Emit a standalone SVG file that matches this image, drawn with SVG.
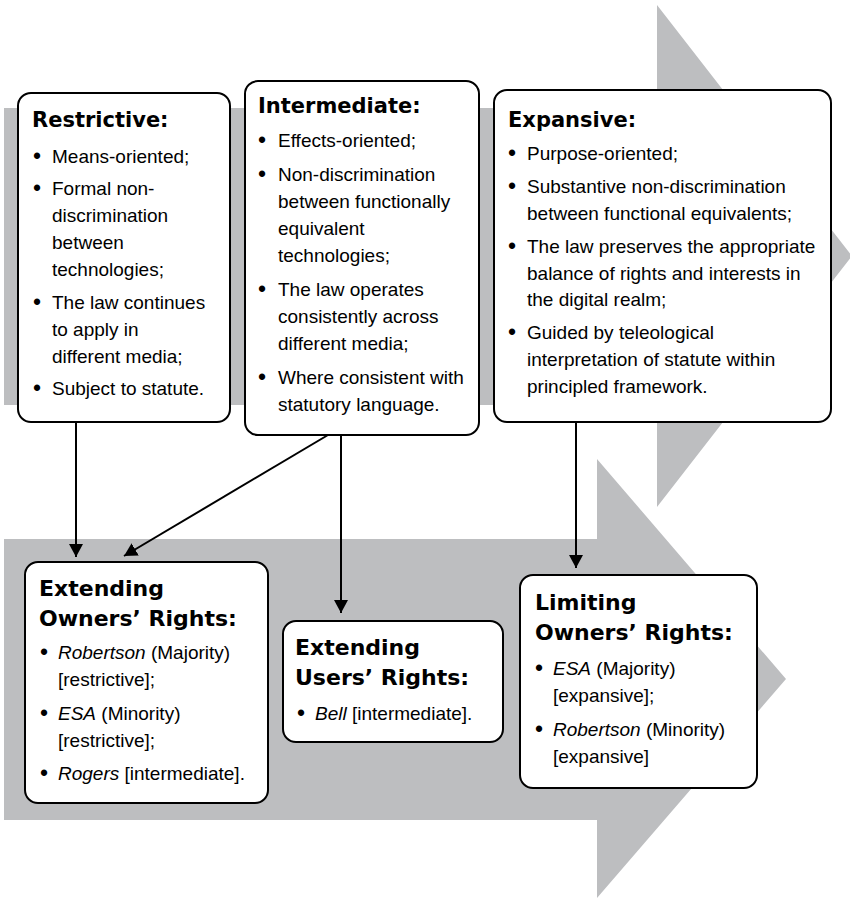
<svg xmlns="http://www.w3.org/2000/svg" width="850" height="899" viewBox="0 0 850 899">
<defs>
<style>
.bg{fill:#bdbec0;stroke:none}
.box{fill:#fff;stroke:#000;stroke-width:2}
.t{font-family:"DejaVu Sans",sans-serif;font-weight:bold;font-size:21px;fill:#000}
.t2{font-family:"DejaVu Sans",sans-serif;font-weight:bold;font-size:22px;fill:#000}
.b{font-family:"Liberation Sans",Arial,sans-serif;font-size:19px;fill:#000}
.d{font-size:23px}
.i{font-style:italic}
.c{stroke:#000;stroke-width:2;fill:none}
</style>
<marker id="ah" markerUnits="userSpaceOnUse" markerWidth="14" markerHeight="14" refX="13" refY="7" orient="auto">
<path d="M0,0 L13,7 L0,14 z" fill="#000"/>
</marker>
</defs>
<g id="background-arrows">
<polygon class="bg" points="4,108 657,108 657,5 852,256 657,507 657,405 4,405"/>
<polygon class="bg" points="4,539 597,539 597,459 786,679 597,898 597,820 4,820"/>
</g>
<g id="connectors">
<line class="c" x1="76" y1="422" x2="76" y2="557" marker-end="url(#ah)"/>
<line class="c" x1="328" y1="435" x2="124" y2="556" marker-end="url(#ah)"/>
<line class="c" x1="341" y1="435" x2="341" y2="613" marker-end="url(#ah)"/>
<line class="c" x1="576" y1="422" x2="576" y2="568" marker-end="url(#ah)"/>
</g>
<g id="restrictive">
<rect class="box" x="18" y="93" width="212" height="329" rx="13"/>
<text class="t" x="32" y="127">Restrictive:</text>
<text class="b"><tspan class="d" x="33" y="163.5">•</tspan><tspan x="52" y="162.5">Means-oriented;</tspan></text>
<text class="b"><tspan class="d" x="33" y="196">•</tspan><tspan x="52" y="195">Formal non-</tspan><tspan x="52" y="222">discrimination</tspan><tspan x="52" y="249">between</tspan><tspan x="52" y="276">technologies;</tspan></text>
<text class="b"><tspan class="d" x="33" y="310">•</tspan><tspan x="52" y="309">The law continues</tspan><tspan x="52" y="336">to apply in</tspan><tspan x="52" y="363">different media;</tspan></text>
<text class="b"><tspan class="d" x="33" y="396">•</tspan><tspan x="52" y="395">Subject to statute.</tspan></text>
</g>
<g id="intermediate">
<rect class="box" x="245" y="81" width="234" height="354" rx="13"/>
<text class="t" x="258" y="113">Intermediate:</text>
<text class="b"><tspan class="d" x="258" y="148">•</tspan><tspan x="278" y="147">Effects-oriented;</tspan></text>
<text class="b"><tspan class="d" x="258" y="182">•</tspan><tspan x="278" y="181">Non-discrimination</tspan><tspan x="278" y="208">between functionally</tspan><tspan x="278" y="235">equivalent</tspan><tspan x="278" y="262">technologies;</tspan></text>
<text class="b"><tspan class="d" x="258" y="297">•</tspan><tspan x="278" y="296">The law operates</tspan><tspan x="278" y="323">consistently across</tspan><tspan x="278" y="350">different media;</tspan></text>
<text class="b"><tspan class="d" x="258" y="385">•</tspan><tspan x="278" y="384">Where consistent with</tspan><tspan x="278" y="411">statutory language.</tspan></text>
</g>
<g id="expansive">
<rect class="box" x="494" y="90" width="337" height="332" rx="13"/>
<text class="t" x="508" y="127">Expansive:</text>
<text class="b"><tspan class="d" x="508" y="161">•</tspan><tspan x="527" y="160">Purpose-oriented;</tspan></text>
<text class="b"><tspan class="d" x="508" y="194">•</tspan><tspan x="527" y="193">Substantive non-discrimination</tspan><tspan x="527" y="220">between functional equivalents;</tspan></text>
<text class="b"><tspan class="d" x="508" y="254">•</tspan><tspan x="527" y="253">The law preserves the appropriate</tspan><tspan x="527" y="280">balance of rights and interests in</tspan><tspan x="527" y="306">the digital realm;</tspan></text>
<text class="b"><tspan class="d" x="508" y="340">•</tspan><tspan x="527" y="339">Guided by teleological</tspan><tspan x="527" y="366">interpretation of statute within</tspan><tspan x="527" y="393">principled framework.</tspan></text>
</g>
<g id="extending-owners">
<rect class="box" x="25" y="562" width="243" height="241" rx="13"/>
<text class="t2"><tspan x="39" y="596">Extending</tspan><tspan x="39" y="626">Owners’ Rights:</tspan></text>
<text class="b"><tspan class="d" x="40" y="660">•</tspan><tspan x="58" y="659" class="i">Robertson</tspan><tspan> (Majority)</tspan><tspan x="58" y="686">[restrictive];</tspan></text>
<text class="b"><tspan class="d" x="40" y="721">•</tspan><tspan x="58" y="720" class="i">ESA</tspan><tspan> (Minority)</tspan><tspan x="58" y="747">[restrictive];</tspan></text>
<text class="b"><tspan class="d" x="40" y="781">•</tspan><tspan x="58" y="780" class="i">Rogers</tspan><tspan> [intermediate].</tspan></text>
</g>
<g id="extending-users">
<rect class="box" x="283" y="621" width="220" height="121" rx="13"/>
<text class="t2"><tspan x="295" y="655">Extending</tspan><tspan x="295" y="685">Users’ Rights:</tspan></text>
<text class="b"><tspan class="d" x="297" y="721">•</tspan><tspan x="315" y="720" class="i">Bell</tspan><tspan> [intermediate].</tspan></text>
</g>
<g id="limiting-owners">
<rect class="box" x="520" y="575" width="237" height="213" rx="13"/>
<text class="t2"><tspan x="535" y="610">Limiting</tspan><tspan x="535" y="640">Owners’ Rights:</tspan></text>
<text class="b"><tspan class="d" x="535" y="676">•</tspan><tspan x="553" y="675" class="i">ESA</tspan><tspan> (Majority)</tspan><tspan x="553" y="702">[expansive];</tspan></text>
<text class="b"><tspan class="d" x="535" y="737">•</tspan><tspan x="553" y="736" class="i">Robertson</tspan><tspan> (Minority)</tspan><tspan x="553" y="763">[expansive]</tspan></text>
</g>
</svg>
